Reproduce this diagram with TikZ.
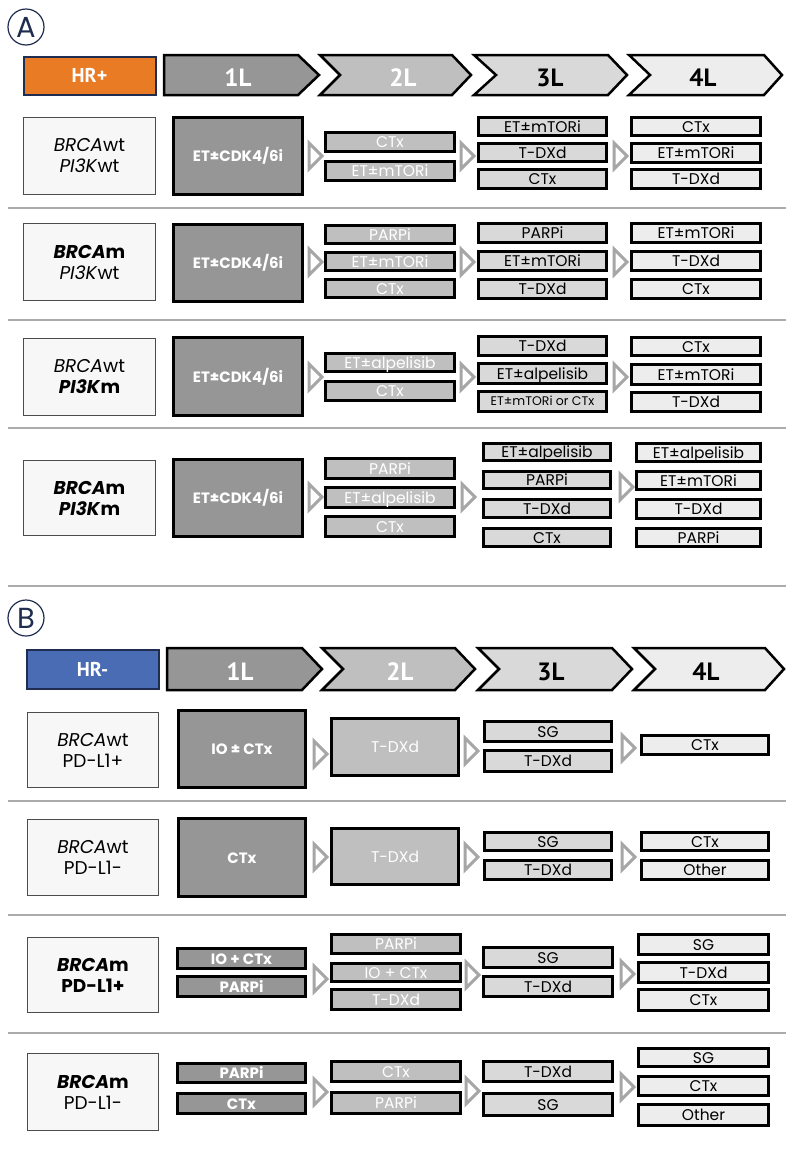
\documentclass[tikz,border=0pt]{standalone}
\usepackage{fontspec}
\setmainfont{Poppins}
\newfontfamily\hdfont{PT Sans}
\definecolor{cone}{HTML}{969696}
\definecolor{ctwo}{HTML}{BFBFBF}
\definecolor{cthree}{HTML}{D9D9D9}
\definecolor{cfour}{HTML}{EDEDED}
\definecolor{labfill}{HTML}{F7F7F7}
\definecolor{hrorange}{HTML}{E97B25}
\definecolor{hrblue}{HTML}{4A6CB4}
\definecolor{navy}{HTML}{1F2D50}
\definecolor{trigray}{HTML}{A6A6A6}
\definecolor{sepgray}{HTML}{ABABAB}
\newcommand\bx[7]{\node[#1, minimum width={#5-#3-3}, minimum height={#6-#4-3}] (#2) at ({(#3+#5)/2},{(#4+#6)/2}) {#7};}
\newcommand\tri[3]{\draw[tri] (#1,{#3-13}) -- (#2,#3) -- (#1,{#3+13}) -- cycle;}
\begin{document}
\begin{tikzpicture}[x=1pt,y=-1pt,
  lab/.style={draw=black!70, line width=0.8, fill=labfill, inner sep=0, align=center, font=\fontsize{18.5}{21}\selectfont},
  cell/.style={draw=black, line width=3, inner sep=0, text height=12.5pt, text depth=1.5pt},
  one/.style={cell, fill=cone, text=white, font=\bfseries\fontsize{15}{17}\selectfont},
  two/.style={cell, fill=ctwo, text=white, font=\fontsize{15.5}{17}\selectfont},
  three/.style={cell, fill=cthree, text=black, font=\fontsize{15.5}{17}\selectfont},
  four/.style={cell, fill=cfour, text=black, font=\fontsize{15.5}{17}\selectfont},
  hdr/.style={draw=black, line width=2.5, line join=miter},
  hdtext/.style={font=\hdfont\bfseries\fontsize{25}{25}\selectfont, inner sep=0},
  hrbox/.style={draw=navy, line width=2, inner sep=0, text=white, font=\hdfont\bfseries\fontsize{20}{20}\selectfont},
  tri/.style={draw=trigray, line width=3, fill=white, line join=miter},
  sepline/.style={draw=sepgray, line width=2},
  circ/.style={circle, draw=navy, line width=1.2, minimum size=36, inner sep=0, text=navy, font=\fontsize{29}{29}\selectfont}
]
\fill[white] (0,0) rectangle (786,1157);
\useasboundingbox (0,0) rectangle (786,1157);

% ===================== Section A =====================
\node[circ] (cA) at (26,27) {A};
\bx{hrbox, fill=hrorange}{hrA}{22}{55}{157}{96}{HR+}
\draw[hdr, fill=cone] (164,55) -- (298,55) -- (319,75) -- (298,95) -- (164,95) -- cycle;
\draw[hdr, fill=ctwo] (320,55) -- (452,55) -- (471,75) -- (452,95) -- (320,95) -- (340,75) -- cycle;
\draw[hdr, fill=cthree] (474,55) -- (608,55) -- (627,75) -- (608,95) -- (474,95) -- (496,75) -- cycle;
\draw[hdr, fill=cfour] (629,55) -- (764,55) -- (782,75) -- (764,95) -- (629,95) -- (650,75) -- cycle;
\node[hdtext, text=white] (hA1) at (238,78) {1L};
\node[hdtext, text=white] (hA2) at (403,78) {2L};
\node[hdtext, text=black] (hA3) at (550,78) {3L};
\node[hdtext, text=black] (hA4) at (703,78) {4L};

% Row A1
\bx{lab}{labA1}{22}{116}{157}{196}{\textit{BRCA}wt\\\textit{PI3K}wt}
\bx{one}{A1a}{172}{116}{304}{196}{ET±CDK4/6i}
\tri{309}{322}{156}
\bx{two}{A1b1}{324}{131}{456}{153}{CTx}
\bx{two}{A1b2}{324}{160}{456}{182}{ET±mTORi}
\tri{461}{474}{156}
\bx{three}{A1c1}{477}{116}{608}{137}{ET±mTORi}
\bx{three}{A1c2}{477}{142}{608}{163}{T-DXd}
\bx{three}{A1c3}{477}{168}{608}{190}{CTx}
\tri{614}{627}{156}
\bx{four}{A1d1}{630}{116}{762}{137}{CTx}
\bx{four}{A1d2}{630}{142}{762}{164}{ET±mTORi}
\bx{four}{A1d3}{630}{168}{762}{190}{T-DXd}
\draw[sepline] (8,208) -- (786,208);

% Row A2
\bx{lab}{labA2}{22}{222}{157}{302}{\textbf{\textit{BRCA}m}\\\textit{PI3K}wt}
\bx{one}{A2a}{172}{223}{304}{303}{ET±CDK4/6i}
\tri{309}{322}{262}
\bx{two}{A2b1}{324}{224}{456}{245}{PARPi}
\bx{two}{A2b2}{324}{251}{456}{272}{ET±mTORi}
\bx{two}{A2b3}{324}{278}{456}{299}{CTx}
\tri{461}{474}{262}
\bx{three}{A2c1}{477}{222}{608}{244}{PARPi}
\bx{three}{A2c2}{477}{250}{608}{272}{ET±mTORi}
\bx{three}{A2c3}{477}{278}{608}{300}{T-DXd}
\tri{614}{627}{262}
\bx{four}{A2d1}{630}{222}{762}{244}{ET±mTORi}
\bx{four}{A2d2}{630}{250}{762}{272}{T-DXd}
\bx{four}{A2d3}{630}{278}{762}{300}{CTx}
\draw[sepline] (8,320) -- (786,320);

% Row A3
\bx{lab}{labA3}{22}{337}{157}{417}{\textit{BRCA}wt\\\textbf{\textit{PI3K}m}}
\bx{one}{A3a}{172}{336}{304}{417}{ET±CDK4/6i}
\tri{309}{322}{377}
\bx{two}{A3b1}{324}{352}{456}{373}{ET±alpelisib}
\bx{two}{A3b2}{324}{380}{456}{402}{CTx}
\tri{461}{474}{377}
\bx{three}{A3c1}{477}{335}{608}{357}{T-DXd}
\bx{three}{A3c2}{477}{362}{608}{385}{ET±alpelisib}
\bx{three, font=\fontsize{12.5}{14}\selectfont, text height=10pt, text depth=1.2pt}{A3c3}{477}{390}{608}{413}{ET±mTORi or CTx}
\tri{614}{627}{377}
\bx{four}{A3d1}{630}{336}{762}{357}{CTx}
\bx{four}{A3d2}{630}{363}{762}{386}{ET±mTORi}
\bx{four}{A3d3}{630}{391}{762}{413}{T-DXd}
\draw[sepline] (8,428) -- (786,428);

% Row A4
\bx{lab}{labA4}{22}{459}{157}{537}{\textbf{\textit{BRCA}m}\\\textbf{\textit{PI3K}m}}
\bx{one}{A4a}{172}{458}{304}{538}{ET±CDK4/6i}
\tri{309}{322}{497}
\bx{two}{A4b1}{324}{457}{456}{480}{PARPi}
\bx{two}{A4b2}{324}{486}{456}{509}{ET±alpelisib}
\bx{two}{A4b3}{324}{515}{456}{538}{CTx}
\tri{462}{475}{497}
\bx{three}{A4c1}{482}{442}{612}{462}{ET±alpelisib}
\bx{three}{A4c2}{482}{470}{612}{490}{PARPi}
\bx{three}{A4c3}{482}{498}{612}{519}{T-DXd}
\bx{three}{A4c4}{482}{527}{612}{548}{CTx}
\tri{620}{633}{487}
\bx{four}{A4d1}{635}{442}{762}{463}{ET±alpelisib}
\bx{four}{A4d2}{635}{470}{762}{491}{ET±mTORi}
\bx{four}{A4d3}{635}{498}{762}{520}{T-DXd}
\bx{four}{A4d4}{635}{527}{762}{548}{PARPi}
\draw[sepline] (8,586) -- (786,586);

% ===================== Section B =====================
\node[circ] (cB) at (26,618) {B};
\bx{hrbox, fill=hrblue}{hrB}{25}{648}{160}{690}{HR-}
\draw[hdr, fill=cone] (167,648) -- (302,648) -- (322,669) -- (302,690) -- (167,690) -- cycle;
\draw[hdr, fill=ctwo] (322,648) -- (455,648) -- (475,669) -- (455,690) -- (322,690) -- (343,669) -- cycle;
\draw[hdr, fill=cthree] (478,648) -- (612,648) -- (632,669) -- (612,690) -- (478,690) -- (499,669) -- cycle;
\draw[hdr, fill=cfour] (634,648) -- (765,648) -- (784,669) -- (765,690) -- (634,690) -- (655,669) -- cycle;
\node[hdtext, text=white] (hB1) at (240,672) {1L};
\node[hdtext, text=white] (hB2) at (400,672) {2L};
\node[hdtext, text=black] (hB3) at (551,672) {3L};
\node[hdtext, text=black] (hB4) at (706,672) {4L};

% Row B1
\bx{lab}{labB1}{26}{711}{160}{789}{\textit{BRCA}wt\\PD-L1+}
\bx{one}{B1a}{177}{709}{307}{789}{IO ± CTx}
\tri{314}{327}{754}
\bx{two}{B1b}{330}{717}{460}{777}{T-DXd}
\tri{465}{478}{751}
\bx{three}{B1c1}{483}{720}{613}{743}{SG}
\bx{three}{B1c2}{483}{749}{613}{773}{T-DXd}
\tri{622}{635}{748}
\bx{four}{B1d1}{640}{734}{770}{756}{CTx}
\draw[sepline] (8,801) -- (786,801);

% Row B2
\bx{lab}{labB2}{26}{818}{160}{897}{\textit{BRCA}wt\\PD-L1-}
\bx{one}{B2a}{177}{817}{307}{898}{CTx}
\tri{314}{327}{857}
\bx{two}{B2b}{330}{827}{460}{886}{T-DXd}
\tri{465}{478}{857}
\bx{three}{B2c1}{483}{831}{613}{852}{SG}
\bx{three}{B2c2}{483}{859}{613}{881}{T-DXd}
\tri{622}{635}{857}
\bx{four}{B2d1}{640}{831}{770}{852}{CTx}
\bx{four}{B2d2}{640}{859}{770}{881}{Other}
\draw[sepline] (8,915) -- (786,915);

% Row B3
\bx{lab}{labB3}{26}{936}{160}{1014}{\textbf{\textit{BRCA}m}\\\textbf{PD-L1+}}
\bx{one}{B3a1}{176}{947}{307}{970}{IO + CTx}
\bx{one}{B3a2}{176}{975}{307}{998}{PARPi}
\tri{314}{327}{979}
\bx{two}{B3b1}{330}{933}{462}{955}{PARPi}
\bx{two}{B3b2}{330}{962}{462}{983}{IO + CTx}
\bx{two}{B3b3}{330}{988}{462}{1011}{T-DXd}
\tri{466}{479}{975}
\bx{three}{B3c1}{482}{946}{614}{969}{SG}
\bx{three}{B3c2}{482}{975}{614}{998}{T-DXd}
\tri{621}{634}{974}
\bx{four}{B3d1}{637}{933}{770}{956}{SG}
\bx{four}{B3d2}{637}{961}{770}{984}{T-DXd}
\bx{four}{B3d3}{637}{988}{770}{1012}{CTx}
\draw[sepline] (8,1033) -- (786,1033);

% Row B4
\bx{lab}{labB4}{26}{1052}{160}{1132}{\textbf{\textit{BRCA}m}\\PD-L1-}
\bx{one}{B4a1}{176}{1062}{307}{1084}{PARPi}
\bx{one}{B4a2}{176}{1092}{307}{1115}{CTx}
\tri{314}{327}{1092}
\bx{two}{B4b1}{330}{1060}{462}{1083}{CTx}
\bx{two}{B4b2}{330}{1091}{462}{1115}{PARPi}
\tri{466}{479}{1091}
\bx{three}{B4c1}{482}{1060}{614}{1083}{T-DXd}
\bx{three}{B4c2}{482}{1092}{614}{1117}{SG}
\tri{621}{634}{1087}
\bx{four}{B4d1}{637}{1047}{770}{1068}{SG}
\bx{four}{B4d2}{637}{1075}{770}{1097}{CTx}
\bx{four}{B4d3}{637}{1103}{770}{1127}{Other}
\end{tikzpicture}
\end{document}
